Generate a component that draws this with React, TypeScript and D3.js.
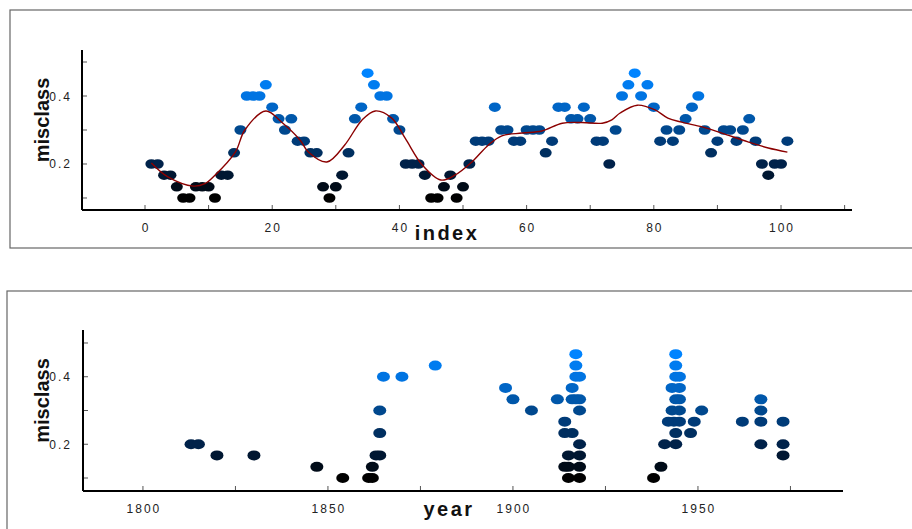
import React from "react";
import * as d3 from "d3";

// ---- Panel 1: misclass by index ----
const indexValues: number[] = [
  0.2, 0.2, 0.167, 0.167, 0.133, 0.1, 0.1, 0.133, 0.133, 0.133,
  0.1, 0.167, 0.167, 0.233, 0.3, 0.4, 0.4, 0.4, 0.433, 0.367,
  0.333, 0.3, 0.333, 0.267, 0.267, 0.233, 0.233, 0.133, 0.1, 0.133,
  0.167, 0.233, 0.333, 0.367, 0.467, 0.433, 0.4, 0.4, 0.333, 0.3,
  0.2, 0.2, 0.2, 0.167, 0.1, 0.1, 0.133, 0.167, 0.1, 0.133,
  0.2, 0.267, 0.267, 0.267, 0.367, 0.3, 0.3, 0.267, 0.267, 0.3,
  0.3, 0.3, 0.233, 0.267, 0.367, 0.367, 0.333, 0.333, 0.367, 0.333,
  0.267, 0.267, 0.2, 0.3, 0.4, 0.433, 0.467, 0.4, 0.433, 0.367,
  0.267, 0.3, 0.267, 0.3, 0.333, 0.367, 0.4, 0.3, 0.233, 0.267,
  0.3, 0.3, 0.267, 0.3, 0.333, 0.267, 0.2, 0.167, 0.2, 0.2,
  0.267,
];

// smoothed trend line
const smoothIndex: number[] = [1, 3.6, 7.6, 9.4, 11, 14.2, 15.7, 19, 21.5, 24.4, 25.6, 28.6, 31.4, 34.1, 36.2, 38.8, 40.9, 43.6, 46.5, 48.7, 51.4, 54, 56.1, 59.3, 62.4, 65.6, 68.7, 71.9, 73.4, 74.7, 77.4, 80.2, 82.2, 84.4, 87.6, 90.7, 94.8, 98, 101];
const smoothValue: number[] = [0.203, 0.162, 0.135, 0.142, 0.167, 0.235, 0.3, 0.356, 0.323, 0.27, 0.237, 0.206, 0.256, 0.329, 0.356, 0.335, 0.276, 0.197, 0.153, 0.167, 0.206, 0.256, 0.283, 0.291, 0.297, 0.32, 0.322, 0.32, 0.33, 0.35, 0.373, 0.359, 0.335, 0.323, 0.309, 0.291, 0.265, 0.247, 0.235];

const indexTicks: number[] = [0, 10, 20, 30, 40, 50, 60, 70, 80, 90, 100, 110];
const indexLabels: number[] = [0, 20, 40, 60, 80, 100];

// ---- Panel 2: misclass by year ----
const yearX: number[] = [
  1813, 1815, 1820, 1830, 1847, 1854, 1861, 1862, 1862, 1863, 1864, 1864, 1864, 1865, 1870, 1879,
  1898, 1900, 1905, 1912, 1914, 1914, 1916, 1918, 1915, 1918, 1914, 1915, 1918, 1915, 1918,
  1917, 1917, 1917, 1918, 1916, 1916, 1917, 1918, 1918,
  1938, 1940, 1941, 1944, 1944, 1948, 1942, 1943.5, 1945, 1949, 1943, 1945, 1951,
  1944, 1945, 1943, 1945, 1944, 1945, 1944, 1944,
  1962, 1967, 1967, 1967, 1967, 1973, 1973, 1973,
];
const yearY: number[] = [
  0.2, 0.2, 0.167, 0.167, 0.133, 0.1, 0.1, 0.1, 0.133, 0.167, 0.167, 0.233, 0.3, 0.4, 0.4, 0.433,
  0.367, 0.333, 0.3, 0.333, 0.267, 0.233, 0.233, 0.2, 0.167, 0.167, 0.133, 0.133, 0.133, 0.1, 0.1,
  0.467, 0.433, 0.4, 0.4, 0.367, 0.333, 0.333, 0.333, 0.3,
  0.1, 0.133, 0.2, 0.2, 0.233, 0.233, 0.267, 0.267, 0.267, 0.267, 0.3, 0.3, 0.3,
  0.333, 0.333, 0.367, 0.367, 0.4, 0.4, 0.433, 0.467,
  0.267, 0.333, 0.3, 0.267, 0.2, 0.267, 0.2, 0.167,
];

const yearTicks: number[] = [1800, 1825, 1850, 1875, 1900, 1925, 1950, 1975];
const yearLabels: number[] = [1800, 1850, 1900, 1950];

const yTicks: number[] = [0.1, 0.2, 0.3, 0.4, 0.5];
const yLabels: number[] = [0.2, 0.4];

const color = d3
  .scaleLinear<string>()
  .domain([0.1, 0.2, 0.3, 0.4, 0.467])
  .range(["#000000", "#00224a", "#00488e", "#0074e2", "#0084ff"])
  .clamp(true);

const FONT = "'Liberation Sans', Arial, sans-serif";

type PanelProps = {
  top: number;
  boxX: number;
  boxY: number;
  boxH: number;
  xs: number[];
  ys: number[];
  xDomain: [number, number];
  yDomain: [number, number];
  xRange: [number, number];
  yRange: [number, number];
  xTicks: number[];
  xLabels: number[];
  title: string;
  titleX: number;
  titleY: number;
  rx: number;
  ry: number;
  smooth?: { x: number[]; y: number[] };
};

function Panel(p: PanelProps) {
  const x = d3.scaleLinear().domain(p.xDomain).range(p.xRange);
  const y = d3.scaleLinear().domain(p.yDomain).range(p.yRange);
  const [x0, x1] = p.xRange;
  const [yb, yt] = p.yRange;
  const line =
    p.smooth &&
    d3
      .line<number>()
      .x((_, i) => x(p.smooth!.x[i]))
      .y((d) => y(d))
      .curve(d3.curveCatmullRom.alpha(0.5))(p.smooth.y);
  return (
    <g>
      <rect x={p.boxX} y={p.boxY} width={1000} height={p.boxH} fill="none" stroke="#666" strokeWidth={1.2} />
      {/* y ticks */}
      {yTicks.map((t) => (
        <line key={"yt" + t} x1={x0} x2={x0 + 5} y1={y(t)} y2={y(t)} stroke="#555" strokeWidth={1} />
      ))}
      {yLabels.map((t) => (
        <text key={"yl" + t} x={72} y={y(t) + 4.5} textAnchor="end" fontFamily={FONT} fontSize={12} letterSpacing={2} fill="#222">
          {t.toFixed(1)}
        </text>
      ))}
      {/* x ticks */}
      {p.xTicks.map((t) => (
        <line key={"xt" + t} x1={x(t)} x2={x(t)} y1={yb - 5} y2={yb} stroke="#555" strokeWidth={1} />
      ))}
      {p.xLabels.map((t) => (
        <text key={"xl" + t} x={x(t) + 1} y={yb + 22} textAnchor="middle" fontFamily={FONT} fontSize={12} letterSpacing={2} fill="#222">
          {t}
        </text>
      ))}
      {/* axes */}
      <line x1={x0} x2={x0} y1={yt} y2={yb} stroke="#000" strokeWidth={2} />
      <line x1={x0} x2={x1} y1={yb} y2={yb} stroke="#000" strokeWidth={2} />
      {/* points */}
      {p.xs.map((xv, i) => (
        <ellipse key={"p" + i} cx={x(xv)} cy={y(p.ys[i])} rx={p.rx} ry={p.ry} fill={color(p.ys[i])} />
      ))}
      {line && <path d={line} fill="none" stroke="#8b0000" strokeWidth={1.4} />}
      {/* titles */}
      <text x={p.titleX} y={p.titleY} textAnchor="middle" fontFamily={FONT} fontWeight="bold" fontSize={20} letterSpacing={2.5} fill="#111">
        {p.title}
      </text>
      <text
        transform={`translate(49,${(yb + yt) / 2 - 10}) rotate(-90)`}
        textAnchor="middle"
        fontFamily={FONT}
        fontWeight="bold"
        fontSize={20}
        fill="#111"
      >
        misclass
      </text>
    </g>
  );
}

export default function App() {
  const idx = indexValues.map((_, i) => i + 1);
  return (
    <svg width={912} height={529} style={{ position: "absolute", left: 0, top: 0, background: "#fff" }}>
      <rect width={912} height={529} fill="#fff" />
      <Panel
        top={0}
        boxX={10}
        boxY={10}
        boxH={238}
        xs={idx}
        ys={indexValues}
        xDomain={[-9.906, 111.16]}
        yDomain={[0.0647, 0.5353]}
        xRange={[82, 852]}
        yRange={[210, 50]}
        xTicks={indexTicks}
        xLabels={indexLabels}
        title="index"
        titleX={447}
        titleY={240}
        rx={6}
        ry={4.8}
        smooth={{ x: smoothIndex, y: smoothValue }}
      />
      <Panel
        top={281}
        boxX={7}
        boxY={291}
        boxH={400}
        xs={yearX}
        ys={yearY}
        xDomain={[1783.8, 1989.2]}
        yDomain={[0.0615, 0.5385]}
        xRange={[83, 843]}
        yRange={[491, 330]}
        xTicks={yearTicks}
        xLabels={yearLabels}
        title="year"
        titleX={449}
        titleY={516}
        rx={6.5}
        ry={5}
      />
    </svg>
  );
}
